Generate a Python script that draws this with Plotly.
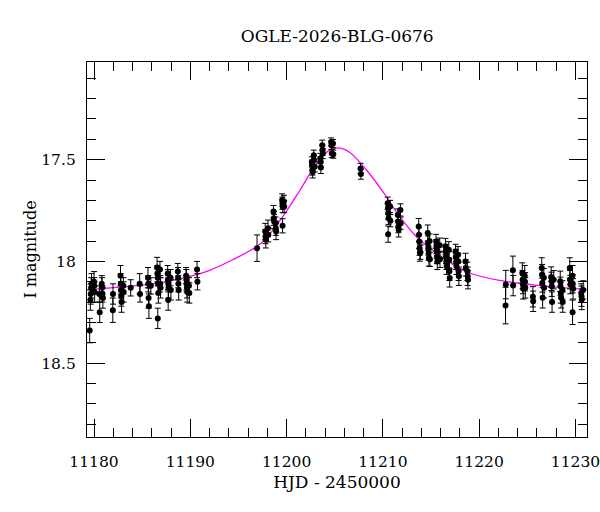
import plotly.graph_objects as go

# photometry: HJD - 2450000, I magnitude, error
hjd = [
    11179.55, 11179.62, 11179.66, 11179.70, 11179.74, 11180.00, 11180.03, 11180.06,
    11180.55, 11180.59, 11180.80, 11180.84, 11180.88, 11180.92, 11181.95, 11181.97,
    11182.75, 11182.78, 11182.80, 11182.83, 11182.86, 11183.05, 11183.08, 11183.81,
    11184.74, 11184.78, 11185.60, 11185.63, 11185.67, 11185.70, 11185.90, 11186.55,
    11186.58, 11186.62, 11186.62, 11186.65, 11186.68, 11186.85, 11186.88, 11186.91,
    11187.65, 11187.68, 11187.70, 11187.71, 11187.74, 11187.95, 11187.98, 11188.70,
    11188.73, 11188.76, 11188.79, 11189.56, 11189.59, 11189.62, 11189.65, 11189.68,
    11189.86, 11189.90, 11190.70, 11190.74,
    11196.93, 11197.78, 11197.81, 11197.84, 11198.07, 11198.10, 11198.64, 11198.67,
    11198.70, 11198.85, 11198.88, 11198.91, 11199.54, 11199.57, 11199.58, 11199.60,
    11199.72, 11199.75, 11202.62, 11202.65, 11202.68, 11202.71, 11202.82, 11202.85,
    11202.92, 11203.50, 11203.53, 11203.56, 11203.70, 11203.73, 11203.76, 11204.63,
    11204.66, 11204.69, 11204.82, 11204.85, 11207.68, 11207.72, 11210.50, 11210.53,
    11210.55, 11210.56, 11210.59, 11210.75, 11210.78, 11211.55, 11211.58, 11211.61,
    11211.64, 11211.82, 11211.85,
    11213.72, 11213.75, 11213.78, 11213.81, 11213.84, 11213.90, 11214.66, 11214.69,
    11214.72, 11214.75, 11214.78, 11214.85, 11214.88, 11215.53, 11215.56, 11215.59,
    11215.62, 11215.65, 11215.90, 11215.93, 11216.50, 11216.53, 11216.56, 11216.59,
    11216.62, 11216.85, 11216.88, 11216.91, 11216.94, 11217.55, 11217.58, 11217.61,
    11217.64, 11217.80, 11217.83, 11217.86, 11217.89, 11218.58, 11218.61, 11218.78,
    11218.81, 11218.84,
    11222.74, 11222.76, 11223.50, 11223.53, 11224.48, 11224.51, 11224.54, 11224.57,
    11224.73, 11224.76, 11224.79, 11225.58, 11225.61, 11226.50, 11226.53, 11226.56,
    11226.59, 11226.71, 11226.74, 11227.48, 11227.51, 11227.54, 11227.57, 11227.74,
    11228.42, 11228.45, 11228.48, 11228.51, 11228.65, 11228.68, 11229.41, 11229.44,
    11229.47, 11229.69, 11229.70, 11229.72, 11229.75, 11230.60, 11230.63, 11230.66,
    11230.80,
]
mag = [
    18.340, 18.190, 18.160, 18.130, 18.110, 18.100, 18.120, 18.150,
    18.160, 18.250, 18.110, 18.130, 18.160, 18.180, 18.240, 18.160,
    18.070, 18.110, 18.140, 18.170, 18.200, 18.120, 18.150, 18.130,
    18.110, 18.160, 18.080, 18.110, 18.180, 18.220, 18.120, 18.030,
    18.060, 18.080, 18.280, 18.110, 18.155, 18.040, 18.110, 18.130,
    18.060, 18.090, 18.190, 18.110, 18.130, 18.080, 18.140, 18.050,
    18.080, 18.110, 18.140, 18.070, 18.090, 18.110, 18.130, 18.150,
    18.120, 18.155, 18.040, 18.100,
    17.935, 17.853, 17.878, 17.894, 17.837, 17.869, 17.755, 17.788,
    17.804, 17.812, 17.837, 17.853, 17.698, 17.714, 17.825, 17.731,
    17.705, 17.730, 17.511, 17.527, 17.551, 17.560, 17.478, 17.502,
    17.535, 17.494, 17.511, 17.538, 17.429, 17.454, 17.470, 17.413,
    17.429, 17.470, 17.421, 17.473, 17.543, 17.571, 17.714, 17.739,
    17.866, 17.763, 17.788, 17.730, 17.800, 17.772, 17.804, 17.829,
    17.845, 17.747, 17.812,
    17.829, 17.869, 17.902, 17.935, 17.959, 17.955, 17.861, 17.910,
    17.934, 17.959, 17.983, 17.900, 17.990, 17.902, 17.927, 17.951,
    17.976, 18.000, 17.920, 17.990, 17.927, 17.951, 17.976, 18.000,
    18.024, 17.943, 17.992, 18.049, 18.081, 17.951, 17.976, 18.000,
    18.024, 17.967, 18.000, 18.049, 18.073, 18.000, 18.032, 18.049,
    18.073, 18.090,
    18.217, 18.114, 18.044, 18.119, 18.057, 18.090, 18.114, 18.135,
    18.070, 18.100, 18.130, 18.174, 18.196, 18.032, 18.065, 18.106,
    18.179, 18.080, 18.130, 18.077, 18.098, 18.122, 18.200, 18.090,
    18.098, 18.122, 18.155, 18.179, 18.140, 18.200, 18.032, 18.090,
    18.114, 18.070, 18.250, 18.110, 18.135, 18.155, 18.171, 18.187,
    18.140,
]
err = [
    0.060, 0.050, 0.050, 0.050, 0.050, 0.050, 0.040, 0.050,
    0.040, 0.050, 0.040, 0.050, 0.040, 0.050, 0.060, 0.050,
    0.050, 0.050, 0.040, 0.050, 0.050, 0.040, 0.050, 0.040,
    0.050, 0.040, 0.050, 0.040, 0.050, 0.060, 0.040, 0.050,
    0.040, 0.040, 0.050, 0.050, 0.050, 0.040, 0.040, 0.050,
    0.040, 0.050, 0.050, 0.040, 0.050, 0.040, 0.050, 0.040,
    0.050, 0.040, 0.050, 0.040, 0.050, 0.040, 0.050, 0.050,
    0.040, 0.050, 0.040, 0.040,
    0.065, 0.040, 0.035, 0.040, 0.040, 0.035, 0.030, 0.035,
    0.035, 0.030, 0.035, 0.040, 0.030, 0.030, 0.035, 0.030,
    0.030, 0.030, 0.025, 0.025, 0.025, 0.030, 0.025, 0.025,
    0.025, 0.025, 0.025, 0.030, 0.025, 0.025, 0.025, 0.020,
    0.020, 0.020, 0.020, 0.020, 0.025, 0.025, 0.030, 0.030,
    0.040, 0.030, 0.030, 0.030, 0.030, 0.030, 0.030, 0.030,
    0.035, 0.030, 0.030,
    0.040, 0.035, 0.035, 0.035, 0.040, 0.035, 0.040, 0.035,
    0.035, 0.035, 0.040, 0.035, 0.035, 0.035, 0.035, 0.035,
    0.035, 0.040, 0.035, 0.040, 0.040, 0.035, 0.035, 0.040,
    0.040, 0.040, 0.040, 0.045, 0.045, 0.035, 0.035, 0.040,
    0.040, 0.040, 0.040, 0.045, 0.045, 0.040, 0.040, 0.045,
    0.045, 0.045,
    0.090, 0.070, 0.070, 0.050, 0.050, 0.045, 0.045, 0.050,
    0.050, 0.045, 0.050, 0.050, 0.050, 0.050, 0.050, 0.045,
    0.050, 0.045, 0.050, 0.050, 0.045, 0.050, 0.050, 0.045,
    0.050, 0.045, 0.050, 0.050, 0.045, 0.050, 0.050, 0.045,
    0.045, 0.050, 0.060, 0.045, 0.050, 0.045, 0.050, 0.050,
    0.045,
]

# model light curve
model_hjd = [
    11179.27, 11183.0, 11186.8, 11188.9, 11191.0, 11192.0, 11194.4, 11196.9,
    11197.9, 11199.6, 11201.4, 11203.1, 11204.3, 11205.3, 11206.5, 11208.3,
    11210.0, 11211.75, 11213.8, 11215.6, 11217.3, 11219.0, 11222.1, 11226.3,
    11231.2,
]
model_mag = [
    18.139, 18.125, 18.106, 18.086, 18.060, 18.044, 17.992, 17.927,
    17.886, 17.780, 17.649, 17.519, 17.458, 17.442, 17.462, 17.551,
    17.657, 17.780, 17.894, 17.959, 18.016, 18.057, 18.093, 18.119,
    18.138,
]

FONT = "DejaVu Serif"

fig = go.Figure()

fig.add_trace(go.Scatter(
    x=model_hjd, y=model_mag,
    mode="lines",
    line=dict(color="#ff00ff", width=1.3, shape="spline", smoothing=1.0),
    hoverinfo="skip",
    showlegend=False,
))

fig.add_trace(go.Scatter(
    x=hjd, y=mag,
    mode="markers",
    marker=dict(color="black", size=6),
    error_y=dict(type="data", array=err, visible=True,
                 color="black", thickness=1, width=3),
    showlegend=False,
))

axis_common = dict(
    showline=True, linecolor="black", linewidth=1.3, mirror="allticks",
    ticks="inside", tickcolor="black", tickwidth=1, ticklen=18,
    showgrid=False, zeroline=False, automargin=False,
    ticklabeloverflow="allow",
    tickfont=dict(family=FONT, size=15.5, color="black"),
)

fig.update_layout(
    width=600, height=512,
    margin=dict(l=87, r=13, t=62, b=75),
    paper_bgcolor="white", plot_bgcolor="white",
    title=dict(text="OGLE-2026-BLG-0676", x=0.562, xanchor="center",
               y=0.93, yanchor="middle",
               font=dict(family=FONT, size=17, color="black")),
    xaxis=dict(
        range=[11179.27, 11231.2], dtick=10, tickformat="d",
        minor=dict(dtick=2, ticks="inside", ticklen=9, tickcolor="black"),
        ticklabelstandoff=10,
        title=dict(text="HJD - 2450000", standoff=6,
                   font=dict(family=FONT, size=17, color="black")),
        **axis_common,
    ),
    yaxis=dict(
        range=[18.863, 17.02], dtick=0.5,
        minor=dict(dtick=0.1, ticks="inside", ticklen=9, tickcolor="black"),
        ticklabelstandoff=7,
        title=dict(text="I magnitude", standoff=0,
                   font=dict(family=FONT, size=16, color="black")),
        **axis_common,
    ),
)

# drop the browser's default body margin so the figure fills the window
fig.write_html("out.html", config={"displayModeBar": False},
               post_script="document.body.style.margin = '0';")
